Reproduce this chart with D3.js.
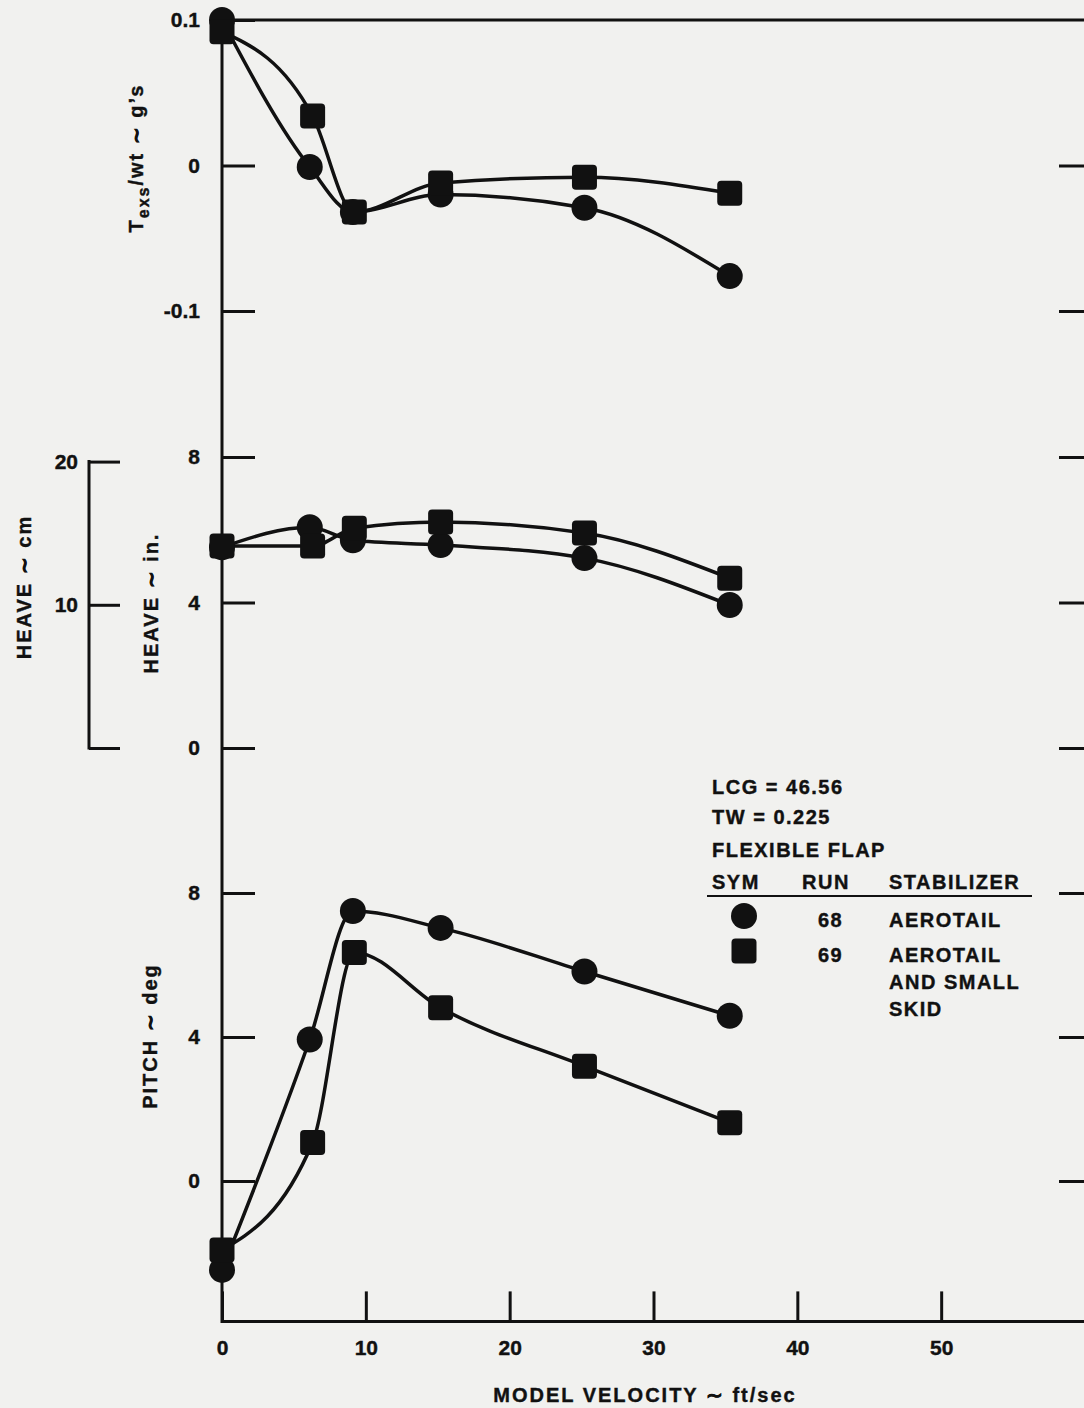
<!DOCTYPE html>
<html lang="en">
<head>
  <meta charset="utf-8">
  <title>Thrust, heave and pitch vs model velocity</title>
  <style>
  body { margin: 0; background: #f1f1ef; }
  svg { display: block; font-family: "Liberation Sans", Arial, Helvetica, sans-serif; font-weight: bold; }
  svg text { stroke: #111; stroke-width: 0.4px; }
  .axis path { display: none; }
  .axis line, .frame { stroke: #111; stroke-width: 3; }
  .axis text { fill: #111; font-size: 21px; font-family: "Liberation Sans", Arial, sans-serif; font-weight: bold; }
  .curve { fill: none; stroke: #111; stroke-width: 3.5; stroke-linejoin: round; }
  .label { font-size: 20px; letter-spacing: 2px; fill: #111; }
  .legend text { font-size: 20px; letter-spacing: 1.5px; fill: #111; }
  </style>
  <script src="https://d3js.org/d3.v7.min.js"></script>
</head>
<body>
  <svg width="1084" height="1408"></svg>
  <script>
  // values; run 68 = circles, run 69 = squares
  var velocity68 = [0, 6.1, 9.1, 15.2, 25.2, 35.3],
      velocity69 = [0, 6.3, 9.2, 15.2, 25.2, 35.3];

  var thrust68 = [0.100, -0.001, -0.032, -0.020, -0.029, -0.076],
      thrust69 = [0.092, 0.034, -0.032, -0.012, -0.008, -0.019];

  var heave68 = [5.52, 6.07, 5.71, 5.58, 5.22, 3.93],
      heave69 = [5.55, 5.55, 6.04, 6.21, 5.91, 4.67];

  var pitch68 = [-2.47, 3.93, 7.50, 7.03, 5.82, 4.59],
      pitch69 = [-1.92, 1.07, 6.35, 4.81, 3.19, 1.62];

  var velocityTicks = [0, 10, 20, 30, 40, 50],
      thrustTicks = [-0.1, 0, 0.1],
      heaveTicks = [0, 4, 8],
      heaveCmTicks = [0, 10, 20],
      pitchTicks = [0, 4, 8];

  var pitchFloor = -3.9;

  var svg = d3.select("svg"),
      g = svg.append("g");

  svg.insert("rect", "g").attr("width", 1084).attr("height", 1408).attr("fill", "#f1f1ef");

  var x = d3.scaleLinear().domain([0, 60]).range([222, 1085]);
  var yThrust = d3.scaleLinear().domain([-0.1, 0.1]).range([311, 20]);
  var yHeave = d3.scaleLinear().domain([0, 8]).range([748, 457]);
  var yPitch = d3.scaleLinear().domain([0, 8]).range([1181, 893]);
  var yHeaveCm = d3.scaleLinear().domain([0, 20]).range([yHeave(0), yHeave(20 / 2.54)]);

  // frame
  g.append("line").attr("class", "frame")
      .attr("x1", x(0)).attr("x2", x(60))
      .attr("y1", yThrust(0.1)).attr("y2", yThrust(0.1));
  g.append("line").attr("class", "frame")
      .attr("x1", x(0)).attr("x2", x(0))
      .attr("y1", yThrust(0.1) - 1.5).attr("y2", yPitch(pitchFloor) + 1.5);
  g.append("line").attr("class", "frame")
      .attr("x1", x(0)).attr("x2", x(60))
      .attr("y1", yPitch(pitchFloor)).attr("y2", yPitch(pitchFloor));

  var panels = [
    {y: yThrust, ticks: thrustTicks, fmt: function(d) { return d === 0 ? "0" : String(d); }},
    {y: yHeave, ticks: heaveTicks, fmt: String},
    {y: yPitch, ticks: pitchTicks, fmt: String}
  ];

  panels.forEach(function(p) {
    g.append("g")
        .attr("class", "axis")
        .attr("transform", "translate(" + x(0) + ",0)")
        .call(d3.axisLeft(p.y).tickValues(p.ticks).tickFormat(p.fmt).tickSize(-33).tickPadding(22));

    g.append("g")
        .attr("class", "axis")
        .attr("transform", "translate(" + x(60) + ",0)")
        .call(d3.axisRight(p.y).tickValues(p.ticks.filter(function(d) { return p.y(d) > 30; }))
          .tickFormat("").tickSize(-26));
  });

  // heave in cm bracket
  var cmX = 89;
  g.append("line").attr("class", "frame")
      .attr("x1", cmX).attr("x2", cmX)
      .attr("y1", yHeaveCm(20) - 1.5).attr("y2", yHeaveCm(0) + 1.5);
  g.append("g")
      .attr("class", "axis")
      .attr("transform", "translate(" + cmX + ",0)")
      .call(d3.axisLeft(yHeaveCm).tickValues(heaveCmTicks)
        .tickFormat(function(d) { return d ? d : ""; }).tickSize(-31).tickPadding(11));

  // x axis
  g.append("g")
      .attr("class", "axis")
      .attr("transform", "translate(0," + yPitch(pitchFloor) + ")")
      .call(d3.axisBottom(x).tickValues(velocityTicks).tickSize(-30).tickPadding(19));

  // curves and markers
  var series = [
    {y: yThrust, vx: velocity68, vy: thrust68, sym: "circle"},
    {y: yThrust, vx: velocity69, vy: thrust69, sym: "square"},
    {y: yHeave, vx: velocity68, vy: heave68, sym: "circle"},
    {y: yHeave, vx: velocity69, vy: heave69, sym: "square"},
    {y: yPitch, vx: velocity68, vy: pitch68, sym: "circle"},
    {y: yPitch, vx: velocity69, vy: pitch69, sym: "square"}
  ];

  series.forEach(function(s) {
    var pts = s.vx.map(function(v, i) { return [x(v), s.y(s.vy[i])]; });
    g.append("path")
        .attr("class", "curve")
        .attr("d", d3.line().curve(d3.curveMonotoneX)(pts));
    s.pts = pts;
  });

  series.forEach(function(s) {
    s.pts.forEach(function(p) { drawSymbol(g, s.sym, p[0], p[1]); });
  });

  function drawSymbol(sel, sym, cx, cy) {
    if (sym === "circle") {
      sel.append("circle").attr("cx", cx).attr("cy", cy).attr("r", 13).attr("fill", "#111");
    } else {
      sel.append("rect").attr("x", cx - 12.5).attr("y", cy - 12.5)
          .attr("width", 25).attr("height", 25).attr("rx", 4).attr("fill", "#111");
    }
  }

  // axis titles
  var t1 = g.append("text").attr("class", "label")
      .attr("text-anchor", "middle")
      .attr("transform", "translate(143,158) rotate(-90)");
  t1.append("tspan").text("T");
  t1.append("tspan").attr("dy", 6).style("font-size", "16px").text("exs");
  t1.append("tspan").attr("dy", -6).text("/wt \u223C g\u2019s");

  g.append("text").attr("class", "label")
      .attr("text-anchor", "middle")
      .attr("transform", "translate(158,603) rotate(-90)")
      .text("HEAVE \u223C in.");

  g.append("text").attr("class", "label")
      .attr("text-anchor", "middle")
      .attr("transform", "translate(31,587) rotate(-90)")
      .text("HEAVE \u223C cm");

  g.append("text").attr("class", "label")
      .attr("text-anchor", "middle")
      .attr("transform", "translate(157,1036) rotate(-90)")
      .text("PITCH \u223C deg");

  g.append("text").attr("class", "label")
      .attr("text-anchor", "middle")
      .attr("x", 645).attr("y", 1402)
      .text("MODEL VELOCITY \u223C ft/sec");

  // legend
  var legend = g.append("g").attr("class", "legend");
  legend.append("text").attr("x", 712).attr("y", 794).text("LCG = 46.56");
  legend.append("text").attr("x", 712).attr("y", 824).text("TW = 0.225");
  legend.append("text").attr("x", 712).attr("y", 857).text("FLEXIBLE FLAP");
  legend.append("text").attr("x", 712).attr("y", 889).text("SYM");
  legend.append("text").attr("x", 802).attr("y", 889).text("RUN");
  legend.append("text").attr("x", 889).attr("y", 889).text("STABILIZER");
  legend.append("line").attr("x1", 707).attr("x2", 1032).attr("y1", 896).attr("y2", 896)
      .attr("stroke", "#111").attr("stroke-width", 2);

  var legendRows = [
    {sym: "circle", run: "68", lines: ["AEROTAIL"], y: 927},
    {sym: "square", run: "69", lines: ["AEROTAIL", "AND SMALL", "SKID"], y: 962}
  ];
  legendRows.forEach(function(r) {
    drawSymbol(legend, r.sym, 744, r.y - 11);
    legend.append("text").attr("x", 818).attr("y", r.y).text(r.run);
    r.lines.forEach(function(l, i) {
      legend.append("text").attr("x", 889).attr("y", r.y + i * 27).text(l);
    });
  });
  </script>
</body>
</html>
